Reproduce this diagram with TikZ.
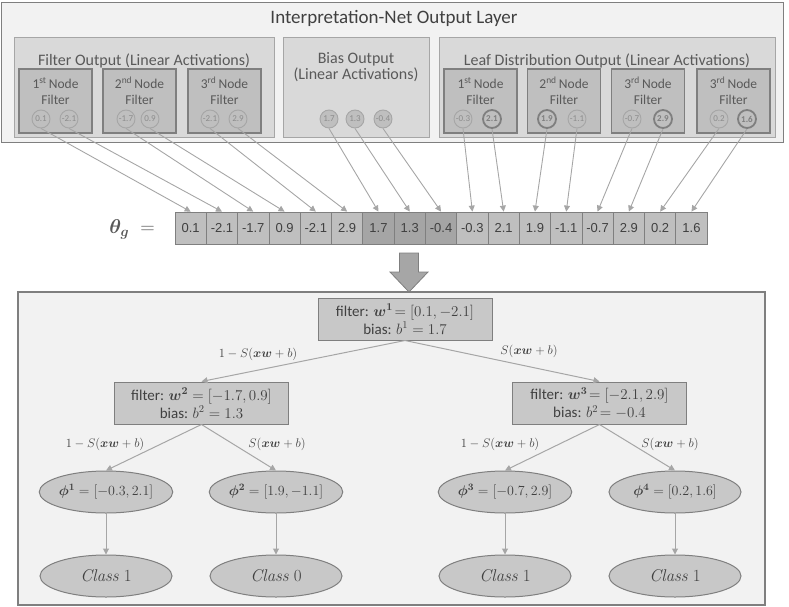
\RequirePackage{fix-cm}
\documentclass[tikz,border=0pt]{standalone}
\usepackage{amsmath,bm}
\usepackage[no-math]{fontspec}
\setmainfont{Carlito}
\newfontfamily\arialf{Liberation Sans}
\usetikzlibrary{shapes.geometric,arrows.meta}
\definecolor{bgl}{HTML}{F2F2F2}
\definecolor{grp}{HTML}{D9D9D9}
\definecolor{nbx}{HTML}{BFBFBF}
\definecolor{brd}{HTML}{7F7F7F}
\definecolor{lin}{HTML}{A6A6A6}
\definecolor{celd}{HTML}{A5A5A5}
\definecolor{txt}{HTML}{404040}
\definecolor{tgray}{HTML}{595959}
\definecolor{cgray}{HTML}{8C8C8C}
\definecolor{tre}{HTML}{C8C8C8}
\begin{document}
\begin{tikzpicture}[x=1pt,y=-1pt,
 outerbox/.style={draw=brd, fill=bgl, line width=0.9pt, inner sep=0},
 grpbox/.style={draw=lin, fill=grp, line width=0.9pt, inner sep=0},
 nodebox/.style={draw=brd, fill=nbx, line width=1.4pt, minimum width=73, minimum height=64, inner sep=0},
 ttl/.style={text=tgray, font=\fontsize{16}{13.5}\selectfont, align=center},
 nlbl/.style={text=tgray, font=\fontsize{13.5}{16}\selectfont, align=center},
 circ/.style={circle, draw=lin, fill=nbx, line width=0.9pt, minimum size=18, inner sep=0, text=cgray, font=\fontsize{9}{10}\selectfont},
 bcirc/.style={circ, draw=brd, line width=1.8pt, text=brd, font=\fontsize{9}{10}\selectfont\bfseries},
 cell/.style={draw=brd, fill=nbx, minimum width=31.3, minimum height=32, inner sep=0, line width=0.8pt, text=txt, font=\arialf\fontsize{13}{14}\selectfont},
 dcell/.style={cell, fill=celd},
 feed/.style={draw=lin, line width=0.9pt, -{Triangle[width=6pt,length=6pt]}},
 tbox/.style={draw=brd, fill=tre, line width=1pt, minimum width=174, minimum height=42, inner sep=0, align=center, text=txt, font=\fontsize{15}{18}\selectfont},
 leaf/.style={ellipse, draw=brd, fill=tre, line width=1pt, minimum width=132, minimum height=42, inner sep=0, text=txt, font=\fontsize{14}{16}\selectfont},
 cls/.style={leaf, font=\fontsize{17}{19}\selectfont},
 tedge/.style={draw=lin, line width=1pt, -{Triangle[width=6pt,length=6pt]}},
 elbl/.style={text=txt, font=\fontsize{12.5}{14}\selectfont},
]
\useasboundingbox (0,0) rectangle (789,607);

% ---------- top layer ----------
\node[outerbox, minimum width=782, minimum height=140] (outer) at (392,72) {};
\node[text=txt, font=\fontsize{19}{21}\selectfont] (title) at (394,18) {Interpretation-Net Output Layer};

\node[grpbox, minimum width=260, minimum height=100] (gf) at (144,87) {};
\node[grpbox, minimum width=146, minimum height=100] (gb) at (356,87) {};
\node[grpbox, minimum width=336, minimum height=100] (gl) at (607,87) {};
\node[ttl] (tf) at (144,61) {Filter Output (Linear Activations)};
\node[ttl] (tb) at (356,67) {Bias Output\\(Linear Activations)};
\node[ttl] (tl) at (607,61) {Leaf Distribution Output (Linear Activations)};

% node boxes
\foreach \n/\x/\s in {f1/55.5/1\textsuperscript{st}, f2/139.5/2\textsuperscript{nd}, f3/224.5/3\textsuperscript{rd},
                      l1/480.5/1\textsuperscript{st}, l2/564/2\textsuperscript{nd}, l3/648/3\textsuperscript{rd}, l4/733.5/3\textsuperscript{rd}}{
  \node[nodebox] (\n) at (\x,101) {};
  \node[nlbl] (\n t) at (\x,91) {\s\,Node\\Filter};
}

% circles
\node[circ]  (c1)  at (41,119)  {0.1};
\node[circ]  (c2)  at (69,119)  {-2.1};
\node[circ]  (c3)  at (126,119) {-1.7};
\node[circ]  (c4)  at (150,119) {0.9};
\node[circ]  (c5)  at (210,119) {-2.1};
\node[circ]  (c6)  at (238,119) {2.9};
\node[circ]  (c7)  at (329,119) {1.7};
\node[circ]  (c8)  at (355,119) {1.3};
\node[circ]  (c9)  at (383,119) {-0.4};
\node[circ]  (c10) at (463,119) {-0.3};
\node[bcirc] (c11) at (492,119) {2.1};
\node[bcirc] (c12) at (547,119) {1.9};
\node[circ]  (c13) at (577,119) {-1.1};
\node[circ]  (c14) at (632,119) {-0.7};
\node[bcirc] (c15) at (663,119) {2.9};
\node[circ]  (c16) at (719,119) {0.2};
\node[bcirc] (c17) at (747,119) {1.6};

% ---------- vector ----------
\node[text=tgray, font=\fontsize{20}{22}\selectfont] (theta) at (132,229) {$\bm{\theta_g}\;=$};
\foreach \i/\v in {1/0.1,2/-2.1,3/-1.7,4/0.9,5/-2.1,6/2.9,10/-0.3,11/2.1,12/1.9,13/-1.1,14/-0.7,15/2.9,16/0.2,17/1.6}{
  \node[cell] (v\i) at ({190.65+31.3*(\i-1)},228) {\v};
}
\foreach \i/\v in {7/1.7,8/1.3,9/-0.4}{
  \node[dcell] (v\i) at ({190.65+31.3*(\i-1)},228) {\v};
}
\foreach \i in {1,...,17}{
  \draw[feed] (c\i.south) -- (v\i.north);
}

% block arrow
\draw[draw=brd, fill=lin, line width=0.8pt] (399.5,253) -- (418.5,253) -- (418.5,272) -- (428,272) -- (409,292) -- (390,272) -- (399.5,272) -- cycle;

% ---------- tree ----------
\node[outerbox, line width=1.4pt, minimum width=747, minimum height=313] (tree) at (391.5,448.5) {};

\node[tbox] (r)  at (405,319)   {filter: $\bm{w}^{\bm{1}}\!= [0.1, -2.1]$\\bias: $b^1 = 1.7$};
\node[tbox] (n2) at (201.5,403) {filter: $\bm{w}^{\bm{2}} = [-1.7, 0.9]$\\bias: $b^2 = 1.3$};
\node[tbox] (n3) at (599.5,403) {filter: $\bm{w}^{\bm{3}}\!= [-2.1, 2.9]$\\bias: $b^2\!= -0.4$};

\node[leaf] (p1) at (106,492) {$\bm{\phi}^{\bm{1}} = [-0.3, 2.1]$};
\node[leaf] (p2) at (276,492) {$\bm{\phi}^{\bm{2}} = [1.9, -1.1]$};
\node[leaf] (p3) at (505,492) {$\bm{\phi}^{\bm{3}} = [-0.7, 2.9]$};
\node[leaf] (p4) at (675,492) {$\bm{\phi}^{\bm{4}} = [0.2, 1.6]$};

\node[cls] (k1) at (106,576) {$\mathit{Class}\ 1$};
\node[cls] (k2) at (276,576) {$\mathit{Class}\ 0$};
\node[cls] (k3) at (505,576) {$\mathit{Class}\ 1$};
\node[cls] (k4) at (675,576) {$\mathit{Class}\ 1$};

\draw[tedge] (r.south) -- (n2.north);
\draw[tedge] (r.south) -- (n3.north);
\draw[tedge] (n2.south) -- (p1.north);
\draw[tedge] (n2.south) -- (p2.north);
\draw[tedge] (n3.south) -- (p3.north);
\draw[tedge] (n3.south) -- (p4.north);
\foreach \i in {1,2,3,4}{ \draw[tedge] (p\i.south) -- (k\i.north); }

\node[elbl] (e1) at (258,354) {$1 - S(\bm{xw} + b)$};
\node[elbl] (e2) at (529,351) {$S(\bm{xw} + b)$};
\node[elbl] (e3) at (105,444) {$1 - S(\bm{xw} + b)$};
\node[elbl] (e4) at (277,444) {$S(\bm{xw} + b)$};
\node[elbl] (e5) at (500,444) {$1 - S(\bm{xw} + b)$};
\node[elbl] (e6) at (670,444) {$S(\bm{xw} + b)$};
\end{tikzpicture}
\end{document}
